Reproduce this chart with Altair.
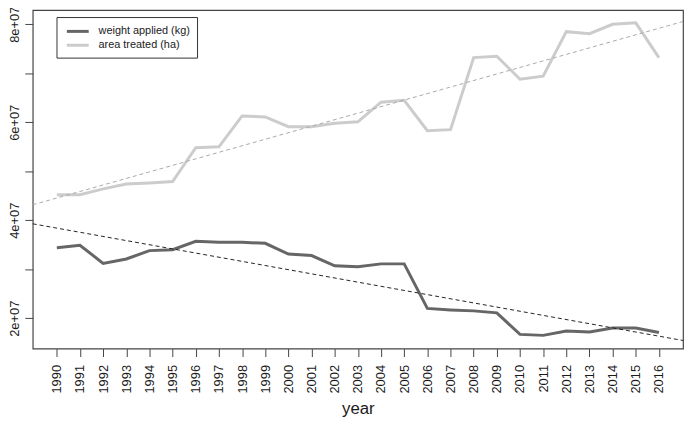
import altair as alt
import pandas as pd

years = list(range(1990, 2017))
weight_applied = [3.44e7, 3.49e7, 3.12e7, 3.21e7, 3.38e7, 3.40e7, 3.57e7, 3.55e7, 3.55e7,
                  3.53e7, 3.31e7, 3.28e7, 3.07e7, 3.05e7, 3.11e7, 3.11e7, 2.20e7, 2.17e7,
                  2.15e7, 2.11e7, 1.67e7, 1.65e7, 1.74e7, 1.72e7, 1.80e7, 1.80e7, 1.71e7]
area_treated = [4.52e7, 4.52e7, 4.64e7, 4.74e7, 4.76e7, 4.79e7, 5.48e7, 5.50e7, 6.13e7,
                6.11e7, 5.91e7, 5.91e7, 5.98e7, 6.01e7, 6.41e7, 6.45e7, 5.83e7, 5.85e7,
                7.32e7, 7.35e7, 6.88e7, 6.94e7, 7.85e7, 7.81e7, 8.00e7, 8.03e7, 7.32e7]
series_names = ["weight applied (kg)", "area treated (ha)"]
y_ticks = [2e7, 3e7, 4e7, 5e7, 6e7, 7e7, 8e7]

df = pd.concat([
    pd.DataFrame({"year": years, "value": weight_applied, "series": series_names[0]}),
    pd.DataFrame({"year": years, "value": area_treated, "series": series_names[1]}),
])

x_dom = [1988.96, 2017.04]
y_dom = [1.38e7, 8.29e7]
FONT = "Liberation Sans"
TXT = "#1a1a1a"

x = alt.X("year:Q", scale=alt.Scale(domain=x_dom, nice=False, zero=False),
          axis=alt.Axis(values=years, format="d", labelAngle=270, grid=False, domain=False,
                        tickSize=8, tickColor="#444", labelPadding=8, labelFontSize=13,
                        labelColor=TXT, labelFont=FONT, title="year", titleFontSize=17,
                        titleFont=FONT, titleColor=TXT, titleFontWeight="normal",
                        titlePadding=8, labelOverlap=False))
y = alt.Y("value:Q", scale=alt.Scale(domain=y_dom, nice=False, zero=False),
          axis=alt.Axis(values=y_ticks, grid=False, domain=False, tickSize=8, tickColor="#444",
                        labelAngle=270, labelPadding=3, labelFontSize=13, labelColor=TXT,
                        labelFont=FONT, title=None, labelOverlap=False,
                        labelExpr="datum.value % 20000000 == 0 ? toString(datum.value / 10000000) + 'e+07' : ''"))

lines = alt.Chart(df).mark_line(strokeWidth=3).encode(
    x=x, y=y,
    color=alt.Color("series:N",
                    scale=alt.Scale(domain=series_names, range=["#666666", "#cccccc"]),
                    legend=alt.Legend(title=None, orient="none", legendX=24, legendY=7,
                                      strokeColor="#333", fillColor="white", padding=6.5,
                                      symbolType="M-1.7,0H1.7", symbolSize=169,
                                      symbolStrokeWidth=3, symbolOffset=7,
                                      labelFontSize=11, labelFont=FONT, labelColor=TXT,
                                      rowPadding=0, labelOffset=13)),
)

trend_w = alt.Chart(df).transform_filter(
    alt.datum.series == series_names[0]
).transform_regression("year", "value", extent=x_dom).mark_line(
    strokeDash=[4, 3], strokeWidth=1, color="#222222"
).encode(x=x, y=y)

trend_a = alt.Chart(df).transform_filter(
    alt.datum.series == series_names[1]
).transform_regression("year", "value", extent=x_dom).mark_line(
    strokeDash=[4, 3], strokeWidth=1, color="#aaaaaa"
).encode(x=x, y=y)

chart = alt.layer(lines, trend_w, trend_a).properties(
    width=657, height=342,
    autosize=alt.AutoSizeParams(type="none"),
    padding={"left": 25, "top": 0, "right": 2, "bottom": 70},
).configure_view(stroke="#444", strokeWidth=1.2)

chart.save("out.html", embed_options={"renderer": "svg", "actions": False})
